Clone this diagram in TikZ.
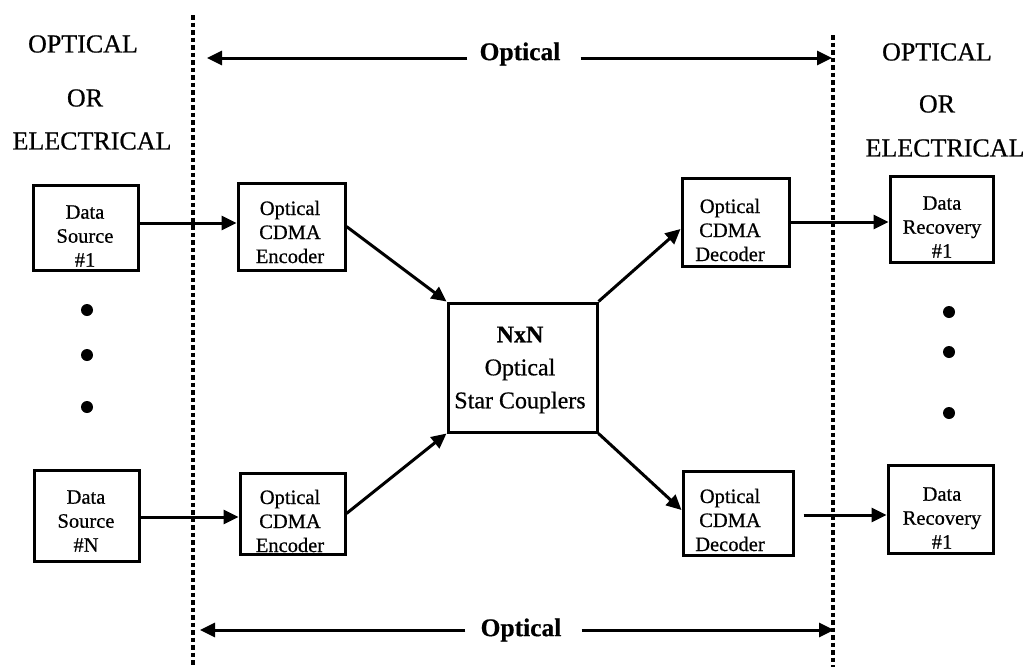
\documentclass[tikz,border=0pt]{standalone}
\usepackage{fontspec}
\setmainfont{Liberation Serif}[FakeBold=0.6]
\usetikzlibrary{arrows.meta}

\begin{document}
\begin{tikzpicture}[x=1pt,y=-1pt,
  blk/.style={draw, line width=3pt, inner sep=0pt},
  lbl/.style={font=\fontsize{20.5}{24}\selectfont, align=center, inner sep=0pt},
  biglbl/.style={font=\fontsize{24}{33}\selectfont, align=center, inner sep=0pt},
  head/.style={font=\fontsize{26}{30}\selectfont, inner sep=0pt},
  zone/.style={font=\bfseries\fontsize{25.5}{30}\selectfont, inner sep=0pt},
  arr/.style={line width=3pt, -{Triangle[length=15pt,width=14pt]}},
  bound/.style={line width=3.6pt, dash pattern=on 4.5pt off 3pt},
  dot/.style={circle, fill, inner sep=0pt, minimum size=12pt}]

\useasboundingbox (0,0) rectangle (1032,667);

% domain boundaries
\coordinate (lbt) at (193,15);
\coordinate (lbb) at (193,667);
\coordinate (rbt) at (833,35);
\coordinate (rbb) at (833,667);
\draw[bound] (lbt) -- (lbb);
\draw[bound] (rbt) -- (rbb);

% side headings
\node[head] (lh1) at (83,44) {OPTICAL};
\node[head] (lh2) at (85,98) {OR};
\node[head] (lh3) at (92,141) {ELECTRICAL};
\node[head] (rh1) at (937,52) {OPTICAL};
\node[head] (rh2) at (937,104) {OR};
\node[head] (rh3) at (945,148) {ELECTRICAL};

% optical span markers
\node[zone] (topopt) at (520,54) {Optical};
\node[zone] (botopt) at (521,630) {Optical};
\coordinate (tl) at (207,58);
\coordinate (tr) at (832,58);
\coordinate (bl) at (200,630);
\coordinate (br) at (834,630);
\draw[arr] ([xshift=-12pt]topopt.west |- tl) -- (tl);
\draw[arr] ([xshift=20pt]topopt.east |- tr) -- (tr);
\draw[arr] ([xshift=-15pt]botopt.west |- bl) -- (bl);
\draw[arr] ([xshift=20pt]botopt.east |- br) -- (br);

% boxes
\node[blk, minimum width=105pt, minimum height=85pt] (s1) at (85.5,227.5) {};
\node[blk, minimum width=107pt, minimum height=87pt] (e1) at (291.5,226.5) {};
\node[blk, minimum width=105pt, minimum height=91pt] (sN) at (86.5,515.5) {};
\node[blk, minimum width=105pt, minimum height=81pt] (eN) at (292.5,513.5) {};
\node[blk, minimum width=149pt, minimum height=129pt] (nxn) at (522.5,367.5) {};
\node[blk, minimum width=107pt, minimum height=88pt] (d1) at (735.5,222) {};
\node[blk, minimum width=110pt, minimum height=84pt] (dN) at (738,513) {};
\node[blk, minimum width=103pt, minimum height=86pt] (r1) at (941.5,219) {};
\node[blk, minimum width=105pt, minimum height=88pt] (rN) at (940.5,509) {};

% box texts
\node[lbl] (s1t) at (85,236) {Data\\Source\\\#1};
\node[lbl] (e1t) at (290,232) {Optical\\CDMA\\Encoder};
\node[lbl] (sNt) at (86,521) {Data\\Source\\\#N};
\node[lbl] (eNt) at (290,521) {Optical\\CDMA\\Encoder};
\node[biglbl] (nxnt) at (520,370) {\textbf{NxN}\\Optical\\Star Couplers};
\node[lbl] (d1t) at (730,230) {Optical\\CDMA\\Decoder};
\node[lbl] (dNt) at (730,520) {Optical\\CDMA\\Decoder};
\node[lbl] (r1t) at (942,227) {Data\\Recovery\\\#1};
\node[lbl] (rNt) at (942,518) {Data\\Recovery\\\#1};

% continuation dots
\node[dot] (ld1) at (87,310) {};
\node[dot] (ld2) at (87,355) {};
\node[dot] (ld3) at (87,407) {};
\node[dot] (rd1) at (949,312) {};
\node[dot] (rd2) at (949,352) {};
\node[dot] (rd3) at (949,413) {};

% signal paths
\draw[arr] (s1.east |- 0,223) -- (e1.west |- 0,223);
\draw[arr] (sN.east |- 0,517) -- (eN.west |- 0,517);
\draw[arr] (e1.east) -- (nxn.north west);
\draw[arr] (eN.east) -- (nxn.south west);
\draw[arr] (nxn.north east) -- ([yshift=-7pt]d1.west);
\draw[arr] (nxn.south east) -- ([yshift=3pt]dN.west);
\draw[arr] (d1.east |- 0,222) -- (r1.west |- 0,222);
\draw[arr] ([xshift=9pt]dN.east |- 0,515) -- (rN.west |- 0,515);
\end{tikzpicture}
\end{document}
